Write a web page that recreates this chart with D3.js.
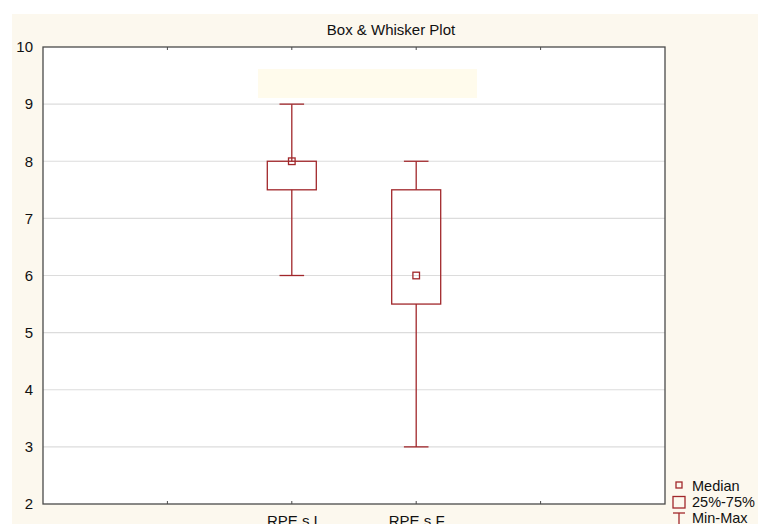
<!DOCTYPE html>
<html>
<head>
<meta charset="utf-8">
<script src="https://cdn.jsdelivr.net/npm/d3@7"></script>
<style>
  html, body { margin: 0; padding: 0; background: #ffffff; }
  svg { display: block; font-family: "Liberation Sans", Arial, sans-serif; }
</style>
</head>
<body>
<svg id="chart" width="758" height="524"></svg>
<script>
// Categories and five-number summaries
const categories = ["RPE s I", "RPE s F"];
const minValues    = [6, 3];
const q1Values     = [7.5, 5.5];
const medianValues = [8, 6];
const q3Values     = [8, 7.5];
const maxValues    = [9, 8];
const yTicks = [2, 3, 4, 5, 6, 7, 8, 9, 10];
const legendLabels = ["Median", "25%-75%", "Min-Max"];

const W = 758, H = 524;
const margin = { left: 43, top: 47, right: 665, bottom: 504 };
const ink = "#a1272b";
const axisColor = "#4a4a4a";
const font = "Liberation Sans, Arial, sans-serif";

const svg = d3.select("#chart");

// Cream page background
svg.append("rect").attr("x", 12).attr("y", 14).attr("width", W - 12).attr("height", H - 14)
  .attr("fill", "#fcf8ee");

// Plot area
svg.append("rect").attr("x", margin.left).attr("y", margin.top)
  .attr("width", margin.right - margin.left).attr("height", margin.bottom - margin.top)
  .attr("fill", "#ffffff");

const y = d3.scaleLinear().domain([2, 10]).range([margin.bottom, margin.top]);
const x = d3.scalePoint().domain(categories).range([margin.left, margin.right]).padding(2);
const step = x.step();
const tickPos = d3.range(1, 5).map(i => margin.left + i * step);

// Gridlines
svg.append("g").selectAll("line").data(yTicks.slice(1, -1)).join("line")
  .attr("x1", margin.left).attr("x2", margin.right)
  .attr("y1", d => y(d)).attr("y2", d => y(d))
  .attr("stroke", "#dcdcdc").attr("stroke-width", 1.2);

// Empty legend strip inside the plot
svg.append("rect").attr("x", 258).attr("y", 69).attr("width", 219).attr("height", 29)
  .attr("fill", "#fffbec");

// Title
svg.append("text").attr("x", 391).attr("y", 35).attr("text-anchor", "middle")
  .attr("font-size", 15).attr("fill", "#111").text("Box & Whisker Plot");

// Left axis
const yAxis = d3.axisLeft(y).tickValues(yTicks).tickSize(0).tickPadding(10);
const gy = svg.append("g").attr("transform", `translate(${margin.left},0)`).call(yAxis);
gy.select(".domain").remove();
gy.selectAll("text").attr("font-size", 15).attr("fill", "#111").attr("font-family", font);

// Bottom category labels
const xAxis = d3.axisBottom(x).tickSize(0).tickPadding(11);
const gx = svg.append("g").attr("transform", `translate(0,${margin.bottom})`).call(xAxis);
gx.select(".domain").remove();
gx.selectAll("text").attr("font-size", 15).attr("fill", "#111").attr("font-family", font);

// Frame
svg.append("rect").attr("x", margin.left).attr("y", margin.top)
  .attr("width", margin.right - margin.left).attr("height", margin.bottom - margin.top)
  .attr("fill", "none").attr("stroke", axisColor).attr("stroke-width", 1.3);

// Inward tick marks on top and bottom
const tg = svg.append("g").attr("stroke", axisColor).attr("stroke-width", 1);
tg.selectAll(".tb").data(tickPos).join("line")
  .attr("x1", d => d).attr("x2", d => d)
  .attr("y1", margin.bottom).attr("y2", margin.bottom - 3);
tg.selectAll(".tt").data(tickPos).join("line")
  .attr("x1", d => d).attr("x2", d => d)
  .attr("y1", margin.top).attr("y2", margin.top + 3);

// Boxes
const boxHalf = 24.5, capHalf = 12.3, medHalf = 3.3;
const data = categories.map((c, i) => ({
  c, min: minValues[i], q1: q1Values[i], med: medianValues[i], q3: q3Values[i], max: maxValues[i]
}));
const g = svg.append("g").attr("stroke", ink).attr("fill", "none").attr("stroke-width", 1.3);
const bx = g.selectAll("g").data(data).join("g");
bx.append("line").attr("x1", d => x(d.c)).attr("x2", d => x(d.c))
  .attr("y1", d => y(d.max)).attr("y2", d => y(d.q3));
bx.append("line").attr("x1", d => x(d.c)).attr("x2", d => x(d.c))
  .attr("y1", d => y(d.q1)).attr("y2", d => y(d.min));
bx.append("line").attr("x1", d => x(d.c) - capHalf).attr("x2", d => x(d.c) + capHalf)
  .attr("y1", d => y(d.max)).attr("y2", d => y(d.max));
bx.append("line").attr("x1", d => x(d.c) - capHalf).attr("x2", d => x(d.c) + capHalf)
  .attr("y1", d => y(d.min)).attr("y2", d => y(d.min));
bx.append("rect").attr("x", d => x(d.c) - boxHalf).attr("width", boxHalf * 2)
  .attr("y", d => y(d.q3)).attr("height", d => y(d.q1) - y(d.q3));
bx.append("rect").attr("x", d => x(d.c) - medHalf).attr("width", medHalf * 2)
  .attr("y", d => y(d.med) - medHalf).attr("height", medHalf * 2);

// Legend
const lg = svg.append("g");
const lx = 679, textX = 692;
const rows = [491, 507, 523];
lg.selectAll("text").data(legendLabels).join("text")
  .attr("x", textX).attr("y", (d, i) => rows[i])
  .attr("font-size", 14.5).attr("fill", "#111").text(d => d);
const ls = lg.append("g").attr("stroke", ink).attr("fill", "none").attr("stroke-width", 1.3);
ls.append("rect").attr("x", lx - 3).attr("y", 482).attr("width", 6).attr("height", 6);
ls.append("rect").attr("x", lx - 6).attr("y", 496.5).attr("width", 12).attr("height", 11.5);
ls.append("line").attr("x1", lx - 6).attr("x2", lx + 6).attr("y1", 513).attr("y2", 513);
ls.append("line").attr("x1", lx).attr("x2", lx).attr("y1", 513).attr("y2", 526);
</script>
</body>
</html>
